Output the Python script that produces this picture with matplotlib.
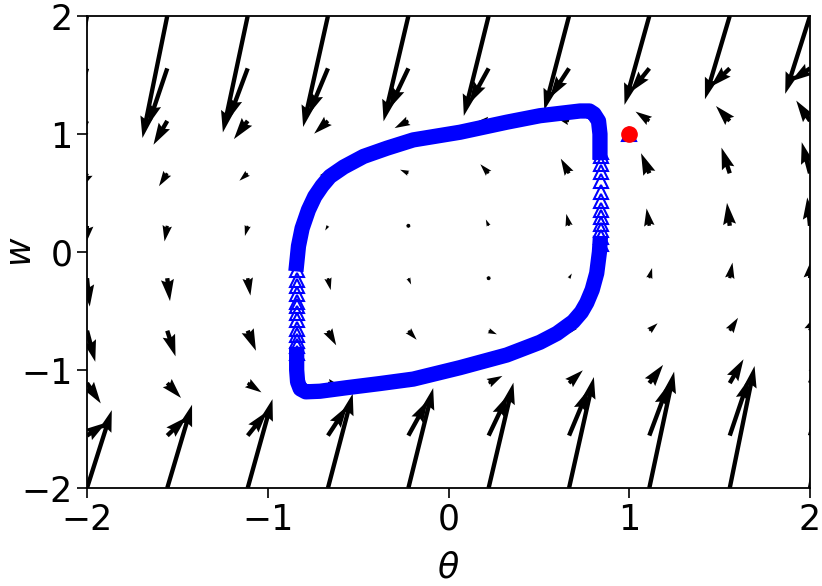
import numpy as np
import matplotlib.pyplot as plt

# direction field grid (10 x 10)
theta_grid = [-2, -1.556, -1.111, -0.667, -0.222, 0.222, 0.667, 1.111, 1.556, 2]
w_grid = [-2, -1.556, -1.111, -0.667, -0.222, 0.222, 0.667, 1.111, 1.556, 2]

# theta-component of the field, same along each row (row = w value)
u_row = [2.0, 1.556, 1.111, 0.667, 0.222, -0.222, -0.667, -1.111, -1.556, -2.0]

# w-component of the field, rows from w=-2 (bottom) to w=2 (top)
v_field = [
    [6.28, 6.72, 7.17, 7.61, 8.06, 8.50, 8.95, 9.39, 9.84, 10.28],
    [1.05, 1.49, 1.94, 2.38, 2.83, 3.27, 3.72, 4.16, 4.61, 5.05],
    [-1.64, -1.20, -0.75, -0.31, 0.14, 0.58, 1.03, 1.47, 1.92, 2.36],
    [-2.51, -2.07, -1.62, -1.18, -0.73, -0.29, 0.16, 0.60, 1.04, 1.49],
    [-2.29, -1.85, -1.40, -0.96, -0.51, -0.07, 0.38, 0.82, 1.26, 1.71],
    [-1.71, -1.26, -0.82, -0.38, 0.07, 0.51, 0.96, 1.40, 1.85, 2.29],
    [-1.49, -1.04, -0.60, -0.16, 0.29, 0.73, 1.18, 1.62, 2.07, 2.51],
    [-2.36, -1.92, -1.47, -1.03, -0.58, -0.14, 0.31, 0.75, 1.20, 1.64],
    [-5.05, -4.61, -4.16, -3.72, -3.27, -2.83, -2.38, -1.94, -1.49, -1.05],
    [-10.28, -9.84, -9.39, -8.95, -8.50, -8.06, -7.61, -7.17, -6.72, -6.28],
]

# trajectory: slow (dense) parts of the cycle
upper_theta = [0.838, 0.838, 0.83, 0.805, 0.78, 0.728, 0.617, 0.506, 0.322, 0.064,
               -0.195, -0.34, -0.47, -0.58, -0.656, -0.70, -0.74, -0.775, -0.81,
               -0.83, -0.84]
upper_w = [0.85, 1.0, 1.11, 1.17, 1.195, 1.195, 1.175, 1.155, 1.10, 1.015,
           0.95, 0.88, 0.81, 0.72, 0.64, 0.56, 0.47, 0.356, 0.2,
           0.05, -0.1]
lower_theta = [-0.84, -0.84, -0.835, -0.82, -0.79, -0.711, -0.563, -0.38, -0.195,
               0.064, 0.322, 0.506, 0.60, 0.69, 0.735, 0.765, 0.795, 0.82, 0.835, 0.838]
lower_w = [-0.87, -1.0, -1.10, -1.16, -1.185, -1.18, -1.15, -1.115, -1.077,
           -0.98, -0.873, -0.765, -0.69, -0.59, -0.51, -0.43, -0.32, -0.18, 0.0, 0.07]

# trajectory: fast (sparse) parts, single triangles
right_theta = 0.845
right_w = [0.85, 0.81, 0.75, 0.68, 0.60, 0.51, 0.43, 0.36, 0.30, 0.24, 0.19, 0.13, 0.07]
left_theta = -0.84
left_w = [-0.15, -0.24, -0.29, -0.36, -0.42, -0.46, -0.52, -0.58, -0.65, -0.70,
          -0.75, -0.80, -0.86]

# initial condition
theta0 = 1.0
w0 = 1.0

fig = plt.figure(figsize=(8.22, 5.86), dpi=100)
ax = fig.add_axes([87 / 822, 98 / 586, 723 / 822, 472 / 586])

T, W = np.meshgrid(theta_grid, w_grid)
U = np.repeat(np.array(u_row)[:, None], len(theta_grid), axis=1)
V = np.array(v_field)
ax.quiver(T, W, U, V, scale_units='dots', scale=1 / 12.4, width=0.006, color='k')

ax.plot(upper_theta, upper_w, color='blue', lw=11, solid_joinstyle='round')
ax.plot(lower_theta, lower_w, color='blue', lw=11, solid_joinstyle='round')
ax.plot([right_theta] * len(right_w), right_w, '^', ms=10, mfc='none', mec='blue', mew=1.5)
ax.plot([left_theta] * len(left_w), left_w, '^', ms=10, mfc='none', mec='blue', mew=1.5)
ax.plot(theta0, w0, '^', ms=10, mfc='none', mec='blue', mew=1.5)
ax.plot(theta0, w0, 'o', color='red', ms=11)

ax.set_xlim(-2, 2)
ax.set_ylim(-2, 2)
ax.set_xticks([-2, -1, 0, 1, 2])
ax.set_yticks([-2, -1, 0, 1, 2])
ax.tick_params(labelsize=25, length=7, width=1.2)
for s in ax.spines.values():
    s.set_linewidth(1.3)
ax.set_xlabel(r'$\theta$', fontsize=25, labelpad=10)
ax.set_ylabel(r'$w$', fontsize=25, labelpad=-12)

fig.savefig('out.png', dpi=100)
